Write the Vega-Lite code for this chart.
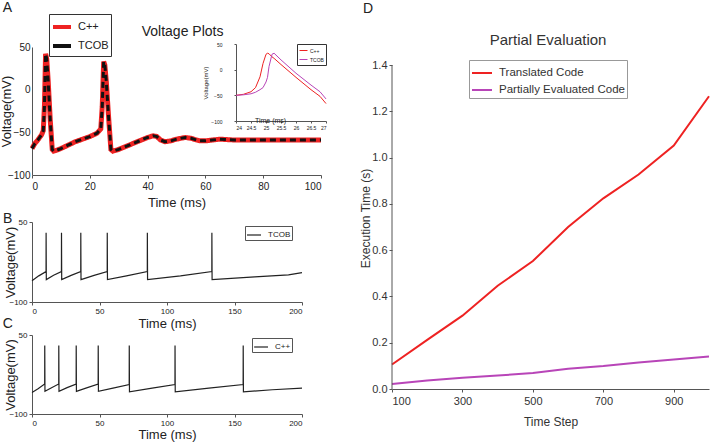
{
  "$schema": "https://vega.github.io/schema/vega-lite/v6.json",
  "background": "white",
  "padding": {"left": 0, "top": 1, "right": 0, "bottom": 1},
  "config": {
    "view": {"stroke": null},
    "font": "Liberation Sans",
    "axis": {"grid": false, "domainColor": "#555", "tickColor": "#555", "labelColor": "#222", "titleColor": "#222", "titleFontWeight": "normal", "tickSize": 3, "labelPadding": 2, "labelFont": "Liberation Sans", "titleFont": "Liberation Sans", "labelOverlap": false},
    "legend": {"labelFont": "Liberation Sans", "labelColor": "#222"}
  },
  "hconcat": [
    {
      "vconcat": [
        {
          "width": 289,
          "height": 128,
          "layer": [
            {
              "layer": [
                {
                  "data": {"values": [
                    {"t": 0, "C++": -69, "TCOB": -69}, {"t": 1, "C++": -63, "TCOB": -63}, {"t": 2, "C++": -59, "TCOB": -59},
                    {"t": 3.3, "C++": -53, "TCOB": -53}, {"t": 3.9, "C++": -48, "TCOB": -48}, {"t": 4.3, "C++": -20, "TCOB": -20},
                    {"t": 4.7, "C++": 42, "TCOB": 42}, {"t": 5.1, "C++": 36, "TCOB": 36}, {"t": 5.6, "C++": 10, "TCOB": 10},
                    {"t": 6.3, "C++": -35, "TCOB": -35}, {"t": 7, "C++": -70, "TCOB": -70}, {"t": 7.5, "C++": -72, "TCOB": -72},
                    {"t": 8.5, "C++": -71, "TCOB": -71}, {"t": 10, "C++": -69, "TCOB": -69}, {"t": 15, "C++": -61, "TCOB": -61},
                    {"t": 20, "C++": -55, "TCOB": -55}, {"t": 22.5, "C++": -51, "TCOB": -51}, {"t": 23.8, "C++": -46, "TCOB": -46},
                    {"t": 24.3, "C++": -20, "TCOB": -20}, {"t": 24.8, "C++": 33, "TCOB": 33}, {"t": 25.2, "C++": 29, "TCOB": 29},
                    {"t": 25.7, "C++": 10, "TCOB": 10}, {"t": 26.5, "C++": -32, "TCOB": -32}, {"t": 27.3, "C++": -70, "TCOB": -70},
                    {"t": 28, "C++": -72, "TCOB": -72}, {"t": 30, "C++": -70, "TCOB": -70}, {"t": 35, "C++": -63, "TCOB": -63},
                    {"t": 40, "C++": -56, "TCOB": -56}, {"t": 42, "C++": -54, "TCOB": -54}, {"t": 43.2, "C++": -55, "TCOB": -55},
                    {"t": 44.5, "C++": -59, "TCOB": -59}, {"t": 46, "C++": -61, "TCOB": -61}, {"t": 48, "C++": -60, "TCOB": -60},
                    {"t": 50, "C++": -58, "TCOB": -58}, {"t": 53, "C++": -56, "TCOB": -56}, {"t": 55, "C++": -57, "TCOB": -57},
                    {"t": 58, "C++": -60, "TCOB": -60}, {"t": 60, "C++": -60, "TCOB": -60}, {"t": 65, "C++": -58, "TCOB": -58},
                    {"t": 70, "C++": -59, "TCOB": -59}, {"t": 80, "C++": -59, "TCOB": -59}, {"t": 90, "C++": -59, "TCOB": -59},
                    {"t": 100, "C++": -59, "TCOB": -59}
                  ]},
                  "transform": [{"fold": ["C++", "TCOB"], "as": ["s", "v"]}],
                  "mark": {"type": "line"},
                  "encoding": {
                    "x": {"field": "t", "type": "quantitative", "scale": {"domain": [0, 100], "nice": false},
                      "axis": {"values": [0,10,20,30,40,50,60,70,80,90,100], "labelOverlap": false, "title": "Time (ms)", "titleFontSize": 13, "labelFontSize": 10, "tickSize": 3, "labelPadding": 3, "titlePadding": 5}},
                    "y": {"field": "v", "type": "quantitative", "scale": {"domain": [-100, 50], "nice": false},
                      "axis": {"values": [-100,-50,0,50], "labelOverlap": false, "title": "Voltage(mV)", "titleFontSize": 13, "labelFontSize": 10, "tickSize": 0, "labelPadding": 2, "titlePadding": -6}},
                    "color": {"field": "s", "type": "nominal", "scale": {"domain": ["C++", "TCOB"], "range": ["#ee2222", "#111111"]},
                      "legend": {"title": null, "orient": "none", "legendX": 17, "legendY": -33, "symbolType": "stroke", "symbolSize": 324, "symbolStrokeWidth": 4, "labelFontSize": 11, "strokeColor": "#333", "fillColor": "white", "padding": 2, "rowPadding": 0, "labelOffset": 5}},
                    "strokeDash": {"field": "s", "type": "nominal", "scale": {"domain": ["C++", "TCOB"], "range": [[1, 0], [6, 4]]}, "legend": null},
                    "strokeWidth": {"field": "s", "type": "nominal", "scale": {"domain": ["C++", "TCOB"], "range": [5, 3]}, "legend": null}
                  }
                },
                {
                  "data": {"values": [{"label": "A", "lx": -8.5, "ly": 95.7}, {"label": "Voltage Plots", "lx": 52.1, "ly": 67.6}]},
                  "mark": {"type": "text", "color": "#222", "baseline": "middle", "fontSize": 14},
                  "encoding": {"text": {"field": "label"}, "x": {"field": "lx", "type": "quantitative"}, "y": {"field": "ly", "type": "quantitative"}}
                }
              ]
            },
            {
              "data": {"values": [
                {"t": 24.0, "C++": -50, "TCOB": -50}, {"t": 24.25, "C++": -48, "TCOB": -49}, {"t": 24.5, "C++": -43, "TCOB": -47},
                {"t": 24.65, "C++": -35, "TCOB": -44}, {"t": 24.8, "C++": -14, "TCOB": -39}, {"t": 24.9, "C++": 12, "TCOB": -35},
                {"t": 25.0, "C++": 30, "TCOB": -24}, {"t": 25.05, "C++": 32, "TCOB": -15}, {"t": 25.1, "C++": 31, "TCOB": 6},
                {"t": 25.2, "C++": 25, "TCOB": 30}, {"t": 25.27, "C++": 22, "TCOB": 32}, {"t": 25.5, "C++": 10, "TCOB": 19},
                {"t": 26.0, "C++": -15, "TCOB": -7}, {"t": 26.5, "C++": -39, "TCOB": -30}, {"t": 26.8, "C++": -52, "TCOB": -43},
                {"t": 27.0, "C++": -66, "TCOB": -57}
              ]},
              "transform": [{"fold": ["C++", "TCOB"], "as": ["s2", "v"]}],
              "mark": {"type": "line", "strokeWidth": 1},
              "encoding": {
                "x": {"field": "t", "type": "quantitative", "scale": {"domain": [24, 27], "range": [204, 294], "nice": false},
                  "axis": {"orient": "bottom", "offset": -54, "values": [24,24.5,25,25.5,26,26.5,27], "labelOverlap": false, "format": "~g", "labelFontSize": 5, "tickSize": 2, "title": "Time (ms)", "titleFontSize": 7, "titleY": -5, "titleX": 238}},
                "y": {"field": "v", "type": "quantitative", "scale": {"domain": [-100, 50], "range": [74, -3], "nice": false},
                  "axis": {"orient": "left", "offset": -204, "values": [-100,-50,0,50], "labelOverlap": false, "labelFontSize": 5, "tickSize": 2, "labelPadding": 12, "title": "Voltage(mV)", "titleFontSize": 6, "titlePadding": 2}},
                "color": {"field": "s2", "type": "nominal", "scale": {"domain": ["C++", "TCOB"], "range": ["#ee2222", "#b845b8"]},
                  "legend": {"title": null, "orient": "none", "legendX": 265, "legendY": -3, "symbolType": "stroke", "symbolSize": 64, "labelFontSize": 5, "strokeColor": "#333", "fillColor": "white", "padding": 2, "rowPadding": 1, "labelOffset": 2, "symbolStrokeWidth": 1}}
              }
            }
          ],
          "resolve": {"scale": {"x": "independent", "y": "independent", "color": "independent"}, "axis": {"x": "independent", "y": "independent"}, "legend": {"color": "independent"}}
        },
        {
          "vconcat": [
            {
              "width": 270,
              "height": 80,
              "layer": [
                {
                  "data": {"values": [
                    {"t": 0, "TCOB": -60}, {"t": 5, "TCOB": -51}, {"t": 10.4, "TCOB": -43}, {"t": 10.45, "TCOB": 30}, {"t": 10.6, "TCOB": -58},
                    {"t": 16, "TCOB": -50}, {"t": 21.8, "TCOB": -43}, {"t": 21.85, "TCOB": 30}, {"t": 22.0, "TCOB": -58},
                    {"t": 29, "TCOB": -50}, {"t": 36.1, "TCOB": -43}, {"t": 36.15, "TCOB": 30}, {"t": 36.3, "TCOB": -58},
                    {"t": 46, "TCOB": -50}, {"t": 55.7, "TCOB": -43}, {"t": 55.75, "TCOB": 30}, {"t": 55.9, "TCOB": -58},
                    {"t": 70, "TCOB": -51}, {"t": 85.4, "TCOB": -43}, {"t": 85.45, "TCOB": 30}, {"t": 85.6, "TCOB": -58},
                    {"t": 110, "TCOB": -51}, {"t": 133.2, "TCOB": -43}, {"t": 133.25, "TCOB": 30}, {"t": 133.4, "TCOB": -58},
                    {"t": 165, "TCOB": -53}, {"t": 190, "TCOB": -49}, {"t": 200, "TCOB": -45}
                  ]},
                  "transform": [{"fold": ["TCOB"], "as": ["s3", "v"]}],
                  "mark": {"type": "line", "strokeWidth": 1.2},
                  "encoding": {
                    "x": {"field": "t", "type": "quantitative", "scale": {"domain": [0, 200], "nice": false},
                      "axis": {"values": [0,50,100,150,200], "labelOverlap": false, "title": "Time (ms)", "titleFontSize": 13, "labelFontSize": 8, "titlePadding": 2}},
                    "y": {"field": "v", "type": "quantitative", "scale": {"domain": [-100, 50], "nice": false},
                      "axis": {"values": [-100,-50,0,50], "labelOverlap": false, "title": "Voltage(mV)", "titleFontSize": 13, "labelFontSize": 8, "titlePadding": -9}},
                    "color": {"field": "s3", "type": "nominal", "scale": {"domain": ["TCOB"], "range": ["#222222"]},
                      "legend": {"title": null, "orient": "none", "legendX": 213, "legendY": 179, "symbolType": "stroke", "symbolSize": 196, "labelFontSize": 8, "strokeColor": "#555", "fillColor": "white", "padding": 1, "labelOffset": 6, "symbolStrokeWidth": 1.2}}
                  }
                },
                {
                  "data": {"values": [{"label": "B", "lx": -18, "ly": 55.6}]},
                  "mark": {"type": "text", "fontSize": 14, "color": "#222", "baseline": "middle"},
                  "encoding": {"text": {"field": "label"}, "x": {"field": "lx", "type": "quantitative"}, "y": {"field": "ly", "type": "quantitative"}}
                }
              ]
            },
            {
              "width": 270,
              "height": 79,
              "layer": [
                {
                  "data": {"values": [
                    {"t": 0, "C++": -59}, {"t": 4.5, "C++": -52}, {"t": 9.4, "C++": -43}, {"t": 9.45, "C++": 30}, {"t": 9.6, "C++": -57},
                    {"t": 14.5, "C++": -50}, {"t": 19.8, "C++": -43}, {"t": 19.85, "C++": 30}, {"t": 20.0, "C++": -57},
                    {"t": 26, "C++": -50}, {"t": 32.7, "C++": -43}, {"t": 32.75, "C++": 30}, {"t": 32.9, "C++": -57},
                    {"t": 41, "C++": -50}, {"t": 49.0, "C++": -43}, {"t": 49.05, "C++": 30}, {"t": 49.2, "C++": -57},
                    {"t": 60, "C++": -51}, {"t": 72.0, "C++": -44}, {"t": 72.05, "C++": 30}, {"t": 72.2, "C++": -58},
                    {"t": 89, "C++": -51}, {"t": 105.9, "C++": -44}, {"t": 105.95, "C++": 30}, {"t": 106.1, "C++": -58},
                    {"t": 131, "C++": -51}, {"t": 156.4, "C++": -44}, {"t": 156.45, "C++": 30}, {"t": 156.6, "C++": -58},
                    {"t": 178, "C++": -54}, {"t": 200, "C++": -51}
                  ]},
                  "transform": [{"fold": ["C++"], "as": ["s4", "v"]}],
                  "mark": {"type": "line", "strokeWidth": 1.2},
                  "encoding": {
                    "x": {"field": "t", "type": "quantitative", "scale": {"domain": [0, 200], "nice": false},
                      "axis": {"values": [0,50,100,150,200], "labelOverlap": false, "title": "Time (ms)", "titleFontSize": 13, "labelFontSize": 8, "titlePadding": 1}},
                    "y": {"field": "v", "type": "quantitative", "scale": {"domain": [-100, 50], "nice": false},
                      "axis": {"values": [-100,-50,0,50], "labelOverlap": false, "title": "Voltage(mV)", "titleFontSize": 13, "labelFontSize": 8, "titlePadding": -9}},
                    "stroke": {"field": "s4", "type": "nominal", "scale": {"domain": ["C++"], "range": ["#222222"]},
                      "legend": {"title": null, "orient": "none", "legendX": 220, "legendY": 291, "symbolType": "stroke", "symbolSize": 196, "labelFontSize": 8, "strokeColor": "#555", "fillColor": "white", "padding": 1, "labelOffset": 6, "symbolStrokeWidth": 1.2}}
                  }
                },
                {
                  "data": {"values": [{"label": "C", "lx": -18, "ly": 70.9}]},
                  "mark": {"type": "text", "fontSize": 14, "color": "#222", "baseline": "middle"},
                  "encoding": {"text": {"field": "label"}, "x": {"field": "lx", "type": "quantitative"}, "y": {"field": "ly", "type": "quantitative"}}
                }
              ]
            }
          ],
          "bounds": "flush",
          "spacing": 33
        }
      ],
      "spacing": 3
    },
    {
      "width": 317,
      "height": 342,
      "layer": [
        {
          "data": {"values": [
            {"step": 100, "code": "Translated Code", "time": 0.106}, {"step": 200, "code": "Translated Code", "time": 0.212},
            {"step": 300, "code": "Translated Code", "time": 0.317}, {"step": 400, "code": "Translated Code", "time": 0.446},
            {"step": 500, "code": "Translated Code", "time": 0.553}, {"step": 600, "code": "Translated Code", "time": 0.70},
            {"step": 700, "code": "Translated Code", "time": 0.824}, {"step": 800, "code": "Translated Code", "time": 0.927},
            {"step": 900, "code": "Translated Code", "time": 1.052}, {"step": 1000, "code": "Translated Code", "time": 1.265},
            {"step": 100, "code": "Partially Evaluated Code", "time": 0.022}, {"step": 200, "code": "Partially Evaluated Code", "time": 0.037},
            {"step": 300, "code": "Partially Evaluated Code", "time": 0.049}, {"step": 400, "code": "Partially Evaluated Code", "time": 0.058},
            {"step": 500, "code": "Partially Evaluated Code", "time": 0.069}, {"step": 600, "code": "Partially Evaluated Code", "time": 0.088},
            {"step": 700, "code": "Partially Evaluated Code", "time": 0.099}, {"step": 800, "code": "Partially Evaluated Code", "time": 0.115},
            {"step": 900, "code": "Partially Evaluated Code", "time": 0.127}, {"step": 1000, "code": "Partially Evaluated Code", "time": 0.14}
          ]},
          "mark": {"type": "line", "strokeWidth": 2},
          "encoding": {
            "x": {"field": "step", "type": "quantitative", "scale": {"domain": [100, 1000], "nice": false},
              "axis": {"values": [100,200,300,400,500,600,700,800,900,1000], "labelOverlap": false, "title": "Time Step", "titleFontSize": 12, "labelFontSize": 11, "labelPadding": 3, "titlePadding": 10, "labelColor": "#333", "titleColor": "#333"}},
            "y": {"field": "time", "type": "quantitative", "scale": {"domain": [0, 1.4778], "nice": false},
              "axis": {"values": [0,0.2,0.4,0.6,0.8,1,1.2,1.4], "labelOverlap": false, "domain": false, "title": "Execution Time (s)", "titleFontSize": 12, "labelFontSize": 11, "titlePadding": -1, "labelColor": "#333", "titleColor": "#333"}},
            "color": {"field": "code", "type": "nominal",
              "scale": {"domain": ["Translated Code", "Partially Evaluated Code"], "range": ["#ee2222", "#b845b8"]},
              "legend": {"title": null, "orient": "none", "legendX": 77, "legendY": 13, "symbolType": "stroke", "symbolSize": 400, "symbolStrokeWidth": 2, "labelFontSize": 11.5, "labelColor": "#333", "strokeColor": "#999", "fillColor": "white", "padding": 2, "rowPadding": -2, "labelOffset": 6}}
          }
        },
        {
          "data": {"values": [{"a": 100, "b0": 0, "b1": 1.4}]},
          "mark": {"type": "rule", "color": "#555", "strokeWidth": 1},
          "encoding": {"x": {"field": "a", "type": "quantitative"}, "y": {"field": "b0", "type": "quantitative"}, "y2": {"field": "b1"}}
        },
        {
          "data": {"values": [{"label": "D", "lx": 32, "ly": 1.642}]},
          "mark": {"type": "text", "color": "#222", "baseline": "middle", "fontSize": 14},
          "encoding": {"text": {"field": "label"}, "x": {"field": "lx", "type": "quantitative"}, "y": {"field": "ly", "type": "quantitative"}}
        },
        {
          "data": {"values": [{"label": "Partial Evaluation", "lx": 543, "ly": 1.508}]},
          "mark": {"type": "text", "color": "#333", "baseline": "middle", "fontSize": 15},
          "encoding": {"text": {"field": "label"}, "x": {"field": "lx", "type": "quantitative"}, "y": {"field": "ly", "type": "quantitative"}}
        }
      ]
    }
  ],
  "spacing": 28,
  "resolve": {"scale": {"color": "independent"}, "legend": {"color": "independent"}}
}
